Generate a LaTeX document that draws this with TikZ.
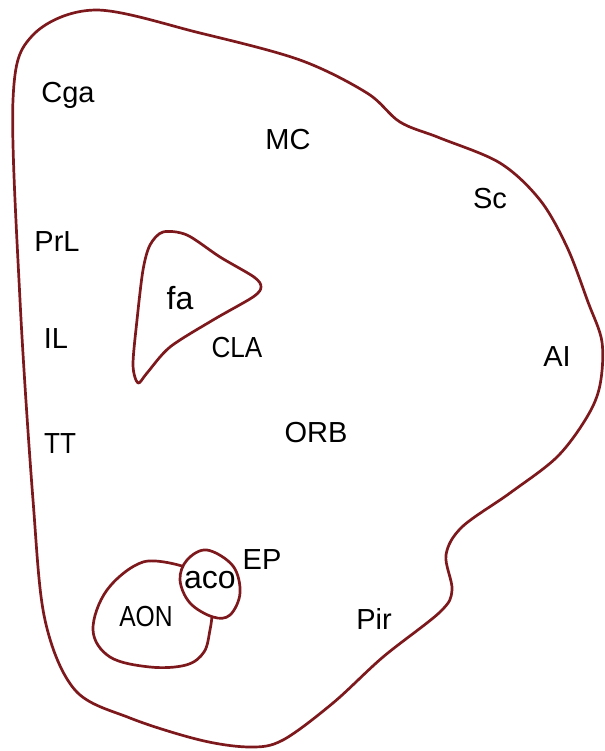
\documentclass[tikz,border=0pt]{standalone}
\usepackage{fontspec}
\setmainfont{Liberation Sans}
\definecolor{outline}{RGB}{125,24,28}
\tikzset{
	region/.style={draw=outline, line width=1.35pt, line join=round},
	lbl/.style={font=\fontsize{14.5}{17}\selectfont, inner sep=0pt}
}
\begin{document}
\begin{tikzpicture}[x=0.5pt, y=-0.5pt]
		\useasboundingbox (0,0) rectangle (605,751);
		% outer contour
		\draw [region] plot [smooth cycle, tension=0.55] coordinates {
			(13,100) (32,36) (95,10) (200,33) (300,60) (367,93)
			(400,122) (440,138) (500,163) (540,200) (567,247) (588,302)
			(602,342) (600,385) (587,417) (557,457) (510,493) (462,527)
			(446,555) (452,590) (440,612) (383,657) (333,703) (283,740)
			(250,747) (200,740) (130,718) (75,690) (45,620) (33,500) (20,300)};
		% fa
		\draw [region] plot [smooth cycle, tension=0.5] coordinates {
			(163,232) (187,235) (220,257) (254,277) (261,287) (253,297)
			(213,320) (170,347) (147,373) (138,383) (133,365) (137,320)
			(143,270) (150,245)};
		% aco
		\draw [region] plot [smooth cycle, tension=0.6] coordinates {
			(207,550) (233,566) (240,593) (230,615) (213,617) (190,603)
			(180,580) (187,560)};
		% AON
		\draw [region] plot [smooth, tension=0.6] coordinates {
			(182,566) (143,562) (107,590) (93,630) (110,657) (150,667)
			(186,665) (204,652) (210,630) (212,616)};
		\node [lbl] (cga) at (68,95) {Cga};
		\node [lbl] (mc) at (288,140) {MC};
		\node [lbl] (sc) at (490,199) {Sc};
		\node [lbl] (prl) at (57,242) {PrL};
		\node [lbl, font=\fontsize{16}{18}\selectfont] (fa) at (180,298) {fa};
		\node [lbl, xscale=0.9] (cla) at (237,348) {CLA};
		\node [lbl] (il) at (56,339) {IL};
		\node [lbl] (ai) at (557,357) {AI};
		\node [lbl, xscale=0.9] (tt) at (60,444) {TT};
		\node [lbl] (orb) at (316,433) {ORB};
		\node [lbl] (ep) at (262,560) {EP};
		\node [lbl, font=\fontsize{16}{18}\selectfont] (aco) at (210,580) {aco};
		\node [lbl, xscale=0.85] (aon) at (146,617) {AON};
		\node [lbl] (pir) at (374,619) {Pir};
\end{tikzpicture}
\end{document}
